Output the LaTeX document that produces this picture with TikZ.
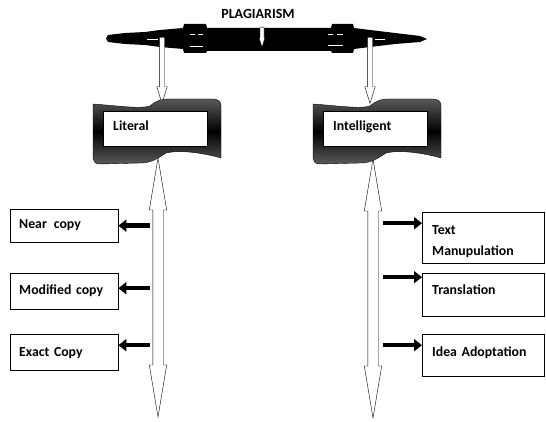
\documentclass[tikz,border=0pt]{standalone}
\usepackage{fontspec}
\setmainfont{Carlito}
\usetikzlibrary{arrows.meta,
                calc,
                positioning,
                shapes.arrows
            }

\begin{document}
\begin{tikzpicture}[x=1pt, y=-1pt, font=\bfseries\fontsize{13.8}{21}\selectfont,
    catbox/.style={draw, fill=white, text width=84pt, align=left, inner xsep=10pt, inner ysep=0pt},
    leafbox/.style={draw, fill=white, text width=90pt, align=left, inner xsep=9pt, inner ysep=0pt},
    typebox/.style={draw, fill=white, text width=102pt, align=left, inner xsep=10pt, inner ysep=0pt},
    hollow/.style={double arrow, draw, fill=white, rotate=90, inner sep=5pt,
        double arrow head extend=3.5pt, double arrow tip angle=19},
    drop/.style={single arrow, draw, fill=white, rotate=-90, inner sep=2.5pt,
        single arrow head extend=2.5pt, single arrow tip angle=35},
    fat/.style={line width=4.5pt, -{Triangle[length=8pt, width=12pt]}}
    ]
    \useasboundingbox (0,0) rectangle (546,422);

    % banner
    \node[font=\bfseries\fontsize{14}{16}\selectfont] (title) at (258,14) {PLAGIARISM};
    \fill (106,38.5) -- (108,35) -- (125,33) -- (145,32) -- (160,30) -- (183,28) -- (184,24) -- (206,24)
        -- (207,28) -- (331,28) -- (332,24) -- (353,24) -- (354,28) -- (370,30) -- (395,33) -- (420,36)
        -- (427,39) -- (420,42) -- (395,44) -- (370,47) -- (354,49) -- (353,53) -- (332,53) -- (331,51)
        -- (207,51) -- (206,53) -- (184,53) -- (183,49) -- (160,47) -- (145,45) -- (125,44) -- (108,42) -- cycle;
    \draw[white, line width=0.9pt] (147,39) -- (158,39) (190,34) -- (195,34) (198,34) -- (203,34)
        (190,46) -- (203,46) (328,34) -- (333,34) (337,34) -- (343,34) (328,45) -- (343,45) (375,39) -- (385,39);
    \node[drop, minimum height=20pt, inner sep=1.8pt, single arrow head extend=1pt] (mid) at (262,34) {};
    \node[drop, minimum height=66pt] (ldrop) at (162,66) {};
    \node[drop, minimum height=66pt] (rdrop) at (370,66) {};

    % spines
    \coordinate (ltop) at (158,158);
    \coordinate (lbot) at (158,417);
    \coordinate (rtop) at (373,159);
    \coordinate (rbot) at (373,418);
    \node[hollow, minimum height=259pt] (lspine) at ($(ltop)!0.5!(lbot)$) {};
    \node[hollow, minimum height=259pt] (rspine) at ($(rtop)!0.5!(rbot)$) {};

    % wavy frames
    \foreach \dx in {0,220}
        \shade[shift={(\dx,0)}, top color=black!65, bottom color=black!65, middle color=black, draw=black]
            (93,104) .. controls (120,106) and (140,109) .. (150,106) .. controls (156,101) and (160,99) .. (170,99)
            -- (212,99) .. controls (218,99) and (221,101) .. (221,106) -- (221,158)
            .. controls (200,152) and (178,150) .. (166,153) .. controls (158,158) and (152,163) .. (140,163)
            -- (100,164) .. controls (95,164) and (93,161) .. (93,158) -- cycle;
    \node[catbox, anchor=north west, text height=19pt, text depth=16pt] (lit) at (103,111) {Literal};
    \node[catbox, anchor=north west, text height=19pt, text depth=16pt] (intel) at (323,111) {Intelligent};

    % literal types
    \node[leafbox, anchor=north west, text height=19pt, text depth=14pt] (near) at (10,209) {Near \,copy};
    \node[leafbox, anchor=north west, text height=21pt, text depth=15pt] (modi) at (10,273) {Modified copy};
    \node[leafbox, anchor=north west, text height=22pt, text depth=14pt] (exact) at (10,334) {Exact Copy};

    % intelligent types
    \node[typebox, anchor=north west, text height=22pt, text depth=29pt] (manu) at (422,212) {Text\\Manupulation};
    \node[typebox, anchor=north west, text height=21pt, text depth=22pt] (trans) at (422,273) {Translation};
    \node[typebox, anchor=north west, text height=22pt, text depth=20pt] (idea) at (422,334) {Idea Adoptation};

    \coordinate (lstub) at (150,0);
    \coordinate (rstub) at (383,0);
    \foreach \n/\dy in {near/0, modi/3, exact/7}
        \draw[fat] ([yshift=\dy pt]\n.east -| lstub) -- ([yshift=\dy pt]\n.east);
    \foreach \n/\dy in {manu/14.5, trans/17.5, idea/10}
        \draw[fat] ([yshift=\dy pt]\n.west -| rstub) -- ([yshift=\dy pt]\n.west);
\end{tikzpicture}
\end{document}
